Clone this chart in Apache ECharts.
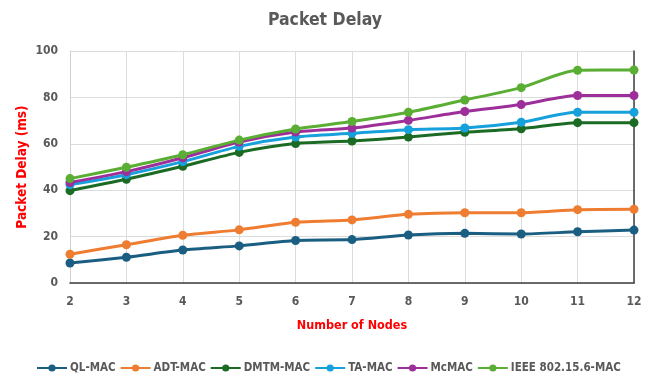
<!DOCTYPE html>
<html>
<head>
<meta charset="utf-8">
<script src="https://cdn.jsdelivr.net/npm/echarts@6/dist/echarts.min.js"></script>
<style>
  html, body { margin: 0; padding: 0; background: #fff; }
  #chart { width: 650px; height: 376px; }
</style>
</head>
<body>
<div id="chart"></div>
<script>
// Number of nodes on the x axis
const nodes = ['2', '3', '4', '5', '6', '7', '8', '9', '10', '11', '12'];

// Packet delay (ms) per protocol
const qlMac    = [8.6, 11.1, 14.2, 16.0, 18.3, 18.7, 20.7, 21.4, 21.1, 22.1, 22.8];
const adtMac   = [12.4, 16.5, 20.6, 22.9, 26.2, 27.2, 29.6, 30.3, 30.3, 31.6, 31.8];
const dmtmMac  = [39.8, 44.7, 50.3, 56.3, 60.1, 61.2, 62.9, 65.0, 66.5, 69.1, 69.1];
const taMac    = [42.4, 46.7, 52.3, 58.9, 62.9, 64.5, 66.1, 66.8, 69.3, 73.6, 73.6];
const mcMac    = [43.3, 48.0, 54.0, 60.8, 65.1, 66.8, 70.1, 73.9, 76.9, 80.8, 80.8];
const ieeeMac  = [45.0, 49.9, 55.3, 61.6, 66.4, 69.6, 73.6, 78.9, 84.2, 91.7, 91.8];

const seriesNames  = ['QL-MAC', 'ADT-MAC', 'DMTM-MAC', 'TA-MAC', 'McMAC', 'IEEE 802.15.6-MAC'];
const seriesData   = [qlMac, adtMac, dmtmMac, taMac, mcMac, ieeeMac];
const seriesColors = ['#1a5e82', '#ee7d31', '#1c6b25', '#16a1dc', '#9c2f9a', '#5aae33'];

const chart = echarts.init(document.getElementById('chart'), null, { renderer: 'canvas' });

const labelFont = "'DejaVu Sans Condensed', 'Liberation Sans Narrow', sans-serif";

chart.setOption({
  animation: false,
  backgroundColor: '#ffffff',
  title: {
    text: 'Packet Delay',
    left: 'center',
    top: 6,
    textStyle: { fontFamily: labelFont, fontSize: 17.5, fontWeight: 'bold', color: '#595959' }
  },
  legend: {
    top: 357,
    left: 31,
    itemGap: 4,
    itemWidth: 30,
    itemHeight: 9,
    data: seriesNames,
    textStyle: { fontFamily: labelFont, fontSize: 11.5, fontWeight: 'bold', color: '#595959', padding: [0, 0, 0, -2] }
  },
  grid: { left: 70, right: 16, top: 51, bottom: 93, containLabel: false },
  xAxis: [
    {
      type: 'category',
      data: nodes,
      boundaryGap: false,
      name: 'Number of Nodes',
      nameLocation: 'middle',
      nameGap: 36,
      nameMoveOverlap: false,
      nameTextStyle: { fontFamily: labelFont, fontSize: 12.5, fontWeight: 'bold', color: '#ff0000' },
      axisLine: { show: true, lineStyle: { color: '#d0d0d0', width: 1 } },
      axisTick: { show: false },
      axisLabel: { margin: 13, fontFamily: labelFont, fontSize: 12, fontWeight: 'bold', color: '#595959' },
      splitLine: { show: true, lineStyle: { color: '#dcdcdc', width: 1 } }
    },
    {
      type: 'category',
      data: nodes,
      boundaryGap: false,
      position: 'top',
      axisLine: { show: true, lineStyle: { color: '#404040', width: 1.5 } },
      axisTick: { show: false },
      axisLabel: { show: false },
      splitLine: { show: false }
    }
  ],
  yAxis: [
    {
      type: 'value',
      min: 0,
      max: 100,
      interval: 20,
      name: 'Packet Delay (ms)',
      nameLocation: 'middle',
      nameGap: 41,
      nameMoveOverlap: false,
      nameTextStyle: { fontFamily: labelFont, fontSize: 13.5, fontWeight: 'bold', color: '#ff0000' },
      axisLine: { show: true, lineStyle: { color: '#d0d0d0', width: 1 } },
      axisTick: { show: false },
      axisLabel: { margin: 12, fontFamily: labelFont, fontSize: 12, fontWeight: 'bold', color: '#595959' },
      splitLine: { show: true, lineStyle: { color: '#dcdcdc', width: 1 } }
    },
    {
      type: 'value',
      min: 0,
      max: 100,
      interval: 20,
      position: 'right',
      axisLine: { show: true, lineStyle: { color: '#404040', width: 1.5 } },
      axisTick: { show: false },
      axisLabel: { show: false },
      splitLine: { show: false }
    }
  ],
  series: seriesNames.map((name, i) => ({
    name: name,
    type: 'line',
    data: seriesData[i],
    smooth: 0.25,
    symbol: 'circle',
    symbolSize: 9,
    color: seriesColors[i],
    lineStyle: { width: 3, color: seriesColors[i] },
    itemStyle: { color: seriesColors[i] },
    z: 2 + i
  }))
});
</script>
</body>
</html>
